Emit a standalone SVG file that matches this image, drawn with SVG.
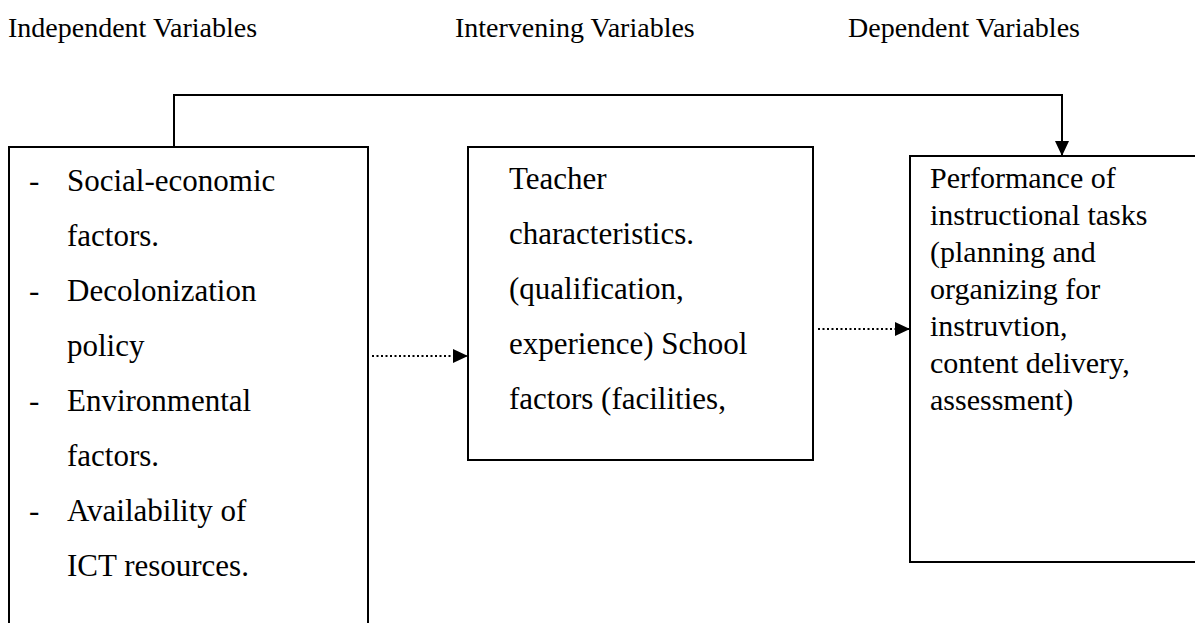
<svg xmlns="http://www.w3.org/2000/svg" width="1195" height="623" viewBox="0 0 1195 623">
<style>
text{font-family:"Liberation Serif","Times New Roman",serif;font-size:31px;fill:#000}
.hdr{font-size:28px}
.rt{font-size:30px}
.box{fill:#fff;stroke:#000;stroke-width:2}
.solid{fill:none;stroke:#000;stroke-width:2}
.dot{fill:none;stroke:#000;stroke-width:2;stroke-dasharray:2 2.5}
</style>
<defs>
<marker id="ah" markerWidth="16" markerHeight="14" refX="15" refY="7" orient="auto" markerUnits="userSpaceOnUse">
<path d="M0,0 L15,7 L0,14 Z" fill="#000"/>
</marker>
</defs>
<rect width="1195" height="623" fill="#fff"/>
<g id="headers">
<text class="hdr" x="8" y="37">Independent Variables</text>
<text class="hdr" x="455" y="37">Intervening Variables</text>
<text class="hdr" x="848" y="37">Dependent Variables</text>
</g>
<g id="independent">
<rect class="box" x="9" y="147" width="359" height="490"/>
<text x="29" y="191">-</text><text x="67" y="191">Social-economic</text>
<text x="67" y="246">factors.</text>
<text x="29" y="301">-</text><text x="67" y="301">Decolonization</text>
<text x="67" y="356">policy</text>
<text x="29" y="411">-</text><text x="67" y="411">Environmental</text>
<text x="67" y="466">factors.</text>
<text x="29" y="521">-</text><text x="67" y="521">Availability of</text>
<text x="67" y="576">ICT resources.</text>
</g>
<g id="intervening">
<rect class="box" x="468" y="147" width="345" height="313"/>
<text x="509" y="189">Teacher</text>
<text x="509" y="244">characteristics.</text>
<text x="509" y="299">(qualification,</text>
<text x="509" y="354">experience) School</text>
<text x="509" y="409">factors (facilities,</text>
</g>
<g id="dependent">
<rect class="box" x="910" y="156" width="300" height="406"/>
<text class="rt" x="930" y="188">Performance of</text>
<text class="rt" x="930" y="225">instructional tasks</text>
<text class="rt" x="930" y="262">(planning and</text>
<text class="rt" x="930" y="299">organizing for</text>
<text class="rt" x="930" y="336">instruvtion,</text>
<text class="rt" x="930" y="373">content delivery,</text>
<text class="rt" x="930" y="410">assessment)</text>
</g>
<g id="connectors">
<path class="solid" d="M174,147 V95 H1062 V156" marker-end="url(#ah)"/>
<path class="dot" d="M372,356 H468" marker-end="url(#ah)"/>
<path class="dot" d="M818,329 H910" marker-end="url(#ah)"/>
</g>
</svg>
